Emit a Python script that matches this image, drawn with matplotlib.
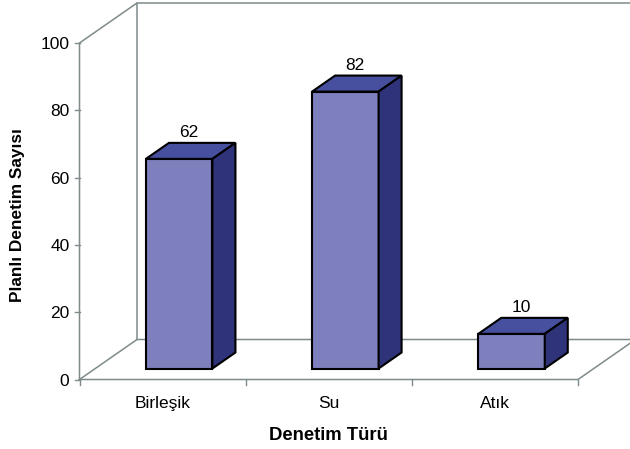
import matplotlib
matplotlib.use("Agg")
import matplotlib.pyplot as plt
from matplotlib.patches import Polygon

categories = ["Birleşik", "Su", "Atık"]
values = [62, 82, 10]
y_ticks = [0, 20, 40, 60, 80, 100]
x_label = "Denetim Türü"
y_label = "Planlı Denetim Sayısı"

plt.rcParams["font.family"] = ["Liberation Sans", "DejaVu Sans"]

W, H = 630, 449
fig = plt.figure(figsize=(W / 100, H / 100), dpi=100)

# Front plane of the 3D box, in pixels
left, right, bottom, top = 79.5, 578.0, 379.5, 43.0
ax = fig.add_axes([left / W, 1 - bottom / H, (right - left) / W, (bottom - top) / H])
ax.set_xlim(0, len(categories))
ax.set_ylim(0, 100)
ax.axis("off")

px_x = len(categories) / (right - left)
px_y = 100 / (bottom - top)


def project(x, y, dx_px=0.0, dy_px=0.0):
    """Shift a data point by a pixel offset used for the oblique depth."""
    return x + dx_px * px_x, y + dy_px * px_y


AXIS = "#7f8a8a"
DEPTH_X, DEPTH_Y = 57.5, 40.0

# Back wall and floor outline
wall = [
    [project(0, 0), project(0, 100), project(0, 100, DEPTH_X, DEPTH_Y),
     project(0, 0, DEPTH_X, DEPTH_Y), project(0, 0)],
    [project(0, 100, DEPTH_X, DEPTH_Y), project(3, 100, DEPTH_X, DEPTH_Y)],
    [project(0, 0, DEPTH_X, DEPTH_Y), project(3, 0, DEPTH_X, DEPTH_Y),
     project(3, 0), project(0, 0)],
]
for seg in wall:
    xs, ys = zip(*seg)
    ax.plot(xs, ys, color=AXIS, lw=1.1, clip_on=False, zorder=1,
            solid_joinstyle="miter")

# Tick marks
for v in y_ticks:
    x0, y0 = project(0, v, -5, 0)
    ax.plot([x0, 0], [y0, v], color=AXIS, lw=1.0, clip_on=False, zorder=1)
    ax.text(*project(0, v, -10, -1.5), str(v), ha="right", va="center",
            fontsize=12.5, color="black")
for i in range(len(categories) + 1):
    x0, y0 = project(i, 0, 0, -5)
    ax.plot([i, x0], [0, y0], color=AXIS, lw=1.0, clip_on=False, zorder=1)

# Bars
BAR_W = 66.5 * px_x
SHIFT_X, SHIFT_Y = 16.6, 11.0
BAR_DX, BAR_DY = 23.0, 16.0
FRONT, TOP, SIDE = "#7e7fbd", "#474f9f", "#2f337a"

for i, (name, v) in enumerate(zip(categories, values)):
    x0 = i + 0.5 - BAR_W / 2
    x1 = x0 + BAR_W
    fl = project(x0, 0, SHIFT_X, SHIFT_Y)
    fr = project(x1, 0, SHIFT_X, SHIFT_Y)
    # The top edge sits one pixel higher than the value alone gives
    tl = project(x0, v, SHIFT_X, SHIFT_Y + 1)
    tr = project(x1, v, SHIFT_X, SHIFT_Y + 1)
    tr_b = project(x1, v, SHIFT_X + BAR_DX, SHIFT_Y + 1 + BAR_DY)
    tl_b = project(x0, v, SHIFT_X + BAR_DX, SHIFT_Y + 1 + BAR_DY)
    fr_b = project(x1, 0, SHIFT_X + BAR_DX, SHIFT_Y + BAR_DY)
    for pts, col in (([fl, fr, tr, tl], FRONT),
                     ([tl, tr, tr_b, tl_b], TOP),
                     ([fr, fr_b, tr_b, tr], SIDE)):
        ax.add_patch(Polygon(pts, closed=True, facecolor=col, edgecolor="black",
                             lw=1.5, joinstyle="miter", clip_on=False, zorder=3))
    # Value label above the bar's top face
    lx, ly = project(i + 0.5, v, SHIFT_X + BAR_DX / 2 - 1.5, SHIFT_Y + 1 + BAR_DY)
    ax.text(lx, ly + 2.5 * px_y, str(v), ha="center", va="bottom",
            fontsize=12.5, color="black", zorder=4)
    # Category label
    ax.text(*project(i + 0.5, 0, 0.5, -24), name, ha="center", va="center",
            fontsize=12.5, color="black")

fig.text(17.5 / W, 1 - 215 / H, y_label, rotation=90, ha="center", va="center",
         fontsize=12.4, fontweight="bold")
fig.text(328 / W, 1 - 435.5 / H, x_label, ha="center", va="center",
         fontsize=13.3, fontweight="bold")

fig.savefig("out.png", dpi=100, facecolor="white")
